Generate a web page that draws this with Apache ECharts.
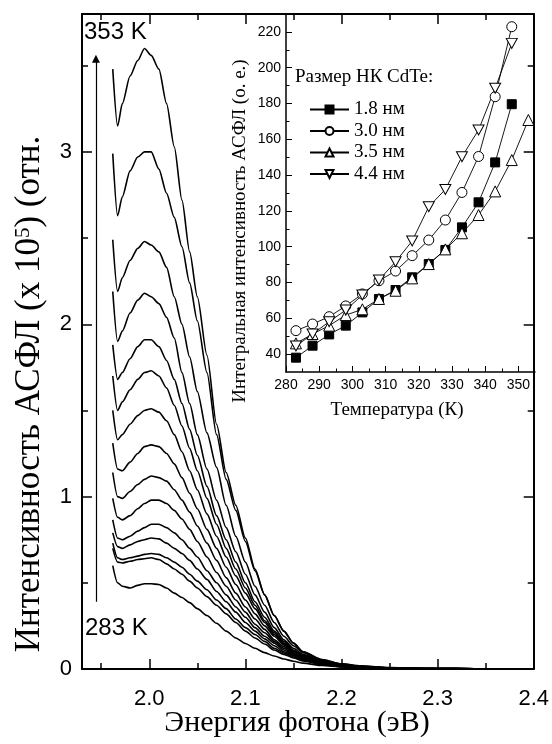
<!DOCTYPE html>
<html><head><meta charset="utf-8">
<script src="https://cdn.jsdelivr.net/npm/echarts@6/dist/echarts.min.js"></script>
<style>html,body{margin:0;padding:0;background:#fff}#c{width:552px;height:744px}</style>
</head><body><div id="c"></div>
<script>
// ---------- main panel data: photon energy (eV) and PL intensity (x 1e5) ----------
const energy = [1.962, 1.967, 1.972, 1.98, 1.988, 1.995, 2.002, 2.01, 2.018, 2.026, 2.034, 2.042, 2.05, 2.06, 2.07, 2.08, 2.09, 2.1, 2.11, 2.12, 2.13, 2.14, 2.15, 2.16, 2.18, 2.2, 2.22, 2.25, 2.28, 2.32, 2.36];
const int353 = [3.48, 3.15, 3.28, 3.44, 3.53, 3.60, 3.56, 3.48, 3.28, 3.03, 2.72, 2.42, 2.16, 1.82, 1.42, 1.14, 0.95, 0.76, 0.58, 0.43, 0.31, 0.22, 0.15, 0.10, 0.055, 0.03, 0.018, 0.008, 0.004, 0.002, 0.001];
const int348 = [2.99, 2.63, 2.74, 2.89, 2.97, 3.00, 3.00, 2.90, 2.76, 2.62, 2.45, 2.24, 2.02, 1.72, 1.36, 1.10, 0.92, 0.74, 0.57, 0.43, 0.31, 0.22, 0.15, 0.10, 0.052, 0.028, 0.016, 0.007, 0.003, 0.002, 0.001];
const int343 = [2.49, 2.19, 2.27, 2.37, 2.44, 2.48, 2.46, 2.42, 2.33, 2.16, 2.00, 1.81, 1.61, 1.37, 1.17, 0.95, 0.77, 0.62, 0.48, 0.37, 0.27, 0.19, 0.135, 0.095, 0.05, 0.027, 0.015, 0.007, 0.003, 0.002, 0.001];
const int338 = [2.19, 1.90, 1.96, 2.065, 2.14, 2.18, 2.16, 2.12, 2.04, 1.92, 1.72, 1.54, 1.36, 1.16, 0.98, 0.82, 0.68, 0.55, 0.43, 0.33, 0.24, 0.17, 0.12, 0.085, 0.045, 0.025, 0.014, 0.006, 0.003, 0.002, 0.001];
const int333 = [1.88, 1.68, 1.72, 1.80, 1.87, 1.91, 1.91, 1.87, 1.79, 1.68, 1.54, 1.39, 1.24, 1.06, 0.89, 0.75, 0.62, 0.50, 0.39, 0.30, 0.22, 0.16, 0.11, 0.078, 0.042, 0.023, 0.013, 0.006, 0.003, 0.002, 0.001];
const int328 = [1.70, 1.50, 1.55, 1.62, 1.68, 1.72, 1.73, 1.70, 1.63, 1.53, 1.41, 1.28, 1.15, 0.99, 0.84, 0.70, 0.58, 0.47, 0.37, 0.28, 0.21, 0.15, 0.105, 0.074, 0.04, 0.022, 0.012, 0.005, 0.003, 0.002, 0.001];
const int323 = [1.50, 1.33, 1.36, 1.42, 1.47, 1.50, 1.51, 1.49, 1.44, 1.36, 1.26, 1.15, 1.04, 0.90, 0.77, 0.65, 0.54, 0.44, 0.35, 0.27, 0.20, 0.145, 0.10, 0.07, 0.038, 0.021, 0.012, 0.005, 0.003, 0.002, 0.001];
const int318 = [1.31, 1.16, 1.15, 1.20, 1.25, 1.29, 1.30, 1.29, 1.25, 1.19, 1.11, 1.02, 0.93, 0.81, 0.70, 0.59, 0.49, 0.40, 0.32, 0.25, 0.19, 0.14, 0.097, 0.068, 0.036, 0.02, 0.011, 0.005, 0.003, 0.002, 0.001];
const int313 = [1.14, 1.00, 0.99, 1.03, 1.07, 1.10, 1.12, 1.11, 1.09, 1.04, 0.98, 0.91, 0.83, 0.73, 0.63, 0.53, 0.44, 0.36, 0.29, 0.23, 0.17, 0.13, 0.09, 0.063, 0.034, 0.019, 0.011, 0.005, 0.002, 0.001, 0.001];
const int308 = [0.99, 0.88, 0.865, 0.89, 0.93, 0.96, 0.98, 0.98, 0.96, 0.92, 0.87, 0.81, 0.74, 0.65, 0.56, 0.48, 0.40, 0.33, 0.26, 0.21, 0.16, 0.12, 0.085, 0.06, 0.032, 0.018, 0.01, 0.005, 0.002, 0.001, 0.001];
const int303 = [0.865, 0.76, 0.75, 0.77, 0.80, 0.82, 0.84, 0.84, 0.82, 0.79, 0.75, 0.70, 0.65, 0.57, 0.50, 0.43, 0.36, 0.30, 0.24, 0.19, 0.15, 0.11, 0.08, 0.056, 0.03, 0.017, 0.01, 0.004, 0.002, 0.001, 0.001];
const int298 = [0.79, 0.71, 0.70, 0.72, 0.74, 0.75, 0.76, 0.755, 0.73, 0.70, 0.67, 0.63, 0.58, 0.52, 0.45, 0.39, 0.33, 0.27, 0.22, 0.175, 0.135, 0.10, 0.075, 0.053, 0.028, 0.016, 0.009, 0.004, 0.002, 0.001, 0.001];
const int293 = [0.73, 0.645, 0.635, 0.645, 0.655, 0.665, 0.67, 0.665, 0.645, 0.62, 0.59, 0.55, 0.51, 0.46, 0.40, 0.35, 0.29, 0.24, 0.20, 0.16, 0.12, 0.093, 0.07, 0.05, 0.027, 0.015, 0.009, 0.004, 0.002, 0.001, 0.001];
const int288 = [0.70, 0.62, 0.615, 0.625, 0.635, 0.64, 0.645, 0.635, 0.61, 0.58, 0.55, 0.51, 0.47, 0.42, 0.37, 0.32, 0.27, 0.22, 0.18, 0.145, 0.11, 0.085, 0.064, 0.047, 0.025, 0.014, 0.008, 0.004, 0.002, 0.001, 0.001];
const int283 = [0.60, 0.50, 0.48, 0.47, 0.485, 0.495, 0.495, 0.49, 0.47, 0.44, 0.415, 0.385, 0.35, 0.31, 0.265, 0.22, 0.18, 0.148, 0.12, 0.095, 0.075, 0.058, 0.045, 0.034, 0.02, 0.012, 0.007, 0.003, 0.002, 0.001, 0.001];
const spectra = [int353, int348, int343, int338, int333, int328, int323, int318, int313, int308, int303, int298, int293, int288, int283];
const spectraTemps = [353, 348, 343, 338, 333, 328, 323, 318, 313, 308, 303, 298, 293, 288, 283];

// temperature arrow (energy, intensity) and its end labels
const arrowEnergy = [1.9445, 1.9445];
const arrowIntensity = [0.39, 3.54];
const arrowLabels = ['353 K', '283 K'];

// main axis ticks
const mainXMajor = [2.0, 2.1, 2.2, 2.3, 2.4];
const mainXMinor = [1.95, 2.05, 2.15, 2.25, 2.35];
const mainYMajor = [0, 1, 2, 3];
const mainYMinor = [0.5, 1.5, 2.5, 3.5];

// ---------- inset data: integrated intensity vs temperature ----------
const sizeNames = ['1.8 нм', '3.0 нм', '3.5 нм', '4.4 нм'];
const tempA = [283, 288, 293, 298, 303, 308, 313, 318, 323, 328, 333, 338, 343, 348];
const tempB = [283, 288, 293, 298, 303, 308, 313, 318, 323, 328, 333, 338, 343, 348, 353];
const integ18 = [38.0, 44.7, 51.0, 55.9, 63.3, 70.8, 75.8, 82.9, 90.3, 98.2, 110.8, 124.8, 147.1, 179.6];
const integ30 = [53.1, 56.8, 60.9, 66.9, 73.6, 81.0, 86.4, 95.0, 103.7, 114.9, 130.3, 150.4, 183.8, 222.9];
const integ35 = [46.0, 51.2, 55.9, 61.8, 65.0, 70.8, 75.4, 82.3, 90.3, 98.5, 107.5, 117.7, 130.9, 148.4, 170.8];
const integ44 = [44.5, 51.2, 58.1, 64.6, 73.0, 81.4, 91.6, 103.2, 122.3, 132.0, 150.3, 165.2, 188.5, 213.6];
const insetXMajor = [280, 290, 300, 310, 320, 330, 340, 350];
const insetXMinor = [285, 295, 305, 315, 325, 335, 345];
const insetYMajor = [40, 60, 80, 100, 120, 140, 160, 180, 200, 220];
const insetYMinor = [50, 70, 90, 110, 130, 150, 170, 190, 210];

// ---------- chart ----------
const chart = echarts.init(document.getElementById('c'), null, {renderer: 'canvas'});
const SANS = 'Liberation Sans, Arial, sans-serif';
const SERIF = 'Liberation Serif, Times New Roman, serif';
const BLACK = '#000';

function axis(o) {
  return {
    type: 'value', gridIndex: o.grid, min: o.min, max: o.max, position: o.position,
    splitLine: {show: false},
    axisLine: {show: !!o.line, onZero: false, lineStyle: {color: BLACK, width: o.lw || 2}},
    axisTick: {show: true, inside: true, length: o.tick, customValues: o.ticks, lineStyle: {color: BLACK, width: o.tw || 1.5}},
    axisLabel: o.labels ? {show: true, customValues: o.ticks, color: BLACK, fontFamily: SANS, fontSize: o.fs, margin: o.margin,
      formatter: o.fmt} : {show: false}
  };
}

const xAxes = [
  axis({grid: 0, min: 1.93, max: 2.4, position: 'bottom', line: true, tick: 10, ticks: mainXMajor, labels: true, fs: 22, margin: 19, fmt: v => Number(v).toFixed(1)}),
  axis({grid: 0, min: 1.93, max: 2.4, position: 'bottom', tick: 6, ticks: mainXMinor}),
  axis({grid: 0, min: 1.93, max: 2.4, position: 'top', line: true, tick: 10, ticks: mainXMajor}),
  axis({grid: 0, min: 1.93, max: 2.4, position: 'top', tick: 6, ticks: mainXMinor}),
  axis({grid: 1, min: 280, max: 355, position: 'bottom', line: true, lw: 1.5, tick: 6, tw: 1, ticks: insetXMajor, labels: true, fs: 14, margin: 6, fmt: v => String(v)}),
  axis({grid: 1, min: 280, max: 355, position: 'bottom', tick: 3.5, tw: 1, ticks: insetXMinor})
];
const yAxes = [
  axis({grid: 0, min: 0, max: 3.8, position: 'left', line: true, tick: 10, ticks: mainYMajor, labels: true, fs: 22, margin: 10, fmt: v => String(v)}),
  axis({grid: 0, min: 0, max: 3.8, position: 'left', tick: 6, ticks: mainYMinor}),
  axis({grid: 0, min: 0, max: 3.8, position: 'right', line: true, tick: 10, ticks: mainYMajor}),
  axis({grid: 0, min: 0, max: 3.8, position: 'right', tick: 6, ticks: mainYMinor}),
  axis({grid: 1, min: 30, max: 230, position: 'left', line: true, lw: 1.5, tick: 6, tw: 1, ticks: insetYMajor, labels: true, fs: 14, margin: 5, fmt: v => String(v)}),
  axis({grid: 1, min: 30, max: 230, position: 'left', tick: 3.5, tw: 1, ticks: insetYMinor})
];

const series = [];
spectra.forEach((arr, k) => {
  series.push({
    name: spectraTemps[k] + ' K', type: 'line', xAxisIndex: 0, yAxisIndex: 0,
    data: energy.map((e, i) => [e, arr[i]]),
    showSymbol: false, symbol: 'none', smooth: 0.25, smoothMonotone: 'x',
    lineStyle: {color: BLACK, width: 1.6}, silent: true, z: 3
  });
});
series.push({
  type: 'lines', coordinateSystem: 'cartesian2d', xAxisIndex: 0, yAxisIndex: 0,
  data: [{coords: [[arrowEnergy[0], arrowIntensity[0]], [arrowEnergy[1], arrowIntensity[1]]]}],
  symbol: ['none', 'triangle'], symbolSize: [0, 8],
  lineStyle: {color: BLACK, width: 1.2, opacity: 1}, silent: true, z: 4
});

const downTri = 'path://M0,0 L10,0 L5,8.66 Z';
const insetDefs = [
  {name: sizeNames[0], x: tempA, y: integ18, symbol: 'rect', size: 9, fill: BLACK},
  {name: sizeNames[1], x: tempA, y: integ30, symbol: 'circle', size: 10, fill: '#fff'},
  {name: sizeNames[2], x: tempB, y: integ35, symbol: 'triangle', size: 11, fill: '#fff'},
  {name: sizeNames[3], x: tempA, y: integ44, symbol: downTri, size: [11, 10], fill: '#fff'}
];
insetDefs.forEach(d => {
  series.push({
    name: d.name, type: 'line', xAxisIndex: 4, yAxisIndex: 4,
    data: d.x.map((t, i) => [t, d.y[i]]),
    symbol: d.symbol, symbolSize: d.size, showSymbol: true,
    itemStyle: {color: d.fill, borderColor: BLACK, borderWidth: 1},
    lineStyle: {color: BLACK, width: 0.9}, silent: true, z: 5
  });
});

chart.setOption({
  animation: false,
  backgroundColor: '#fff',
  grid: [
    {left: 82, top: 14, width: 453, height: 655},
    {left: 286, top: 14, width: 249, height: 358}
  ],
  xAxis: xAxes,
  yAxis: yAxes,
  legend: {
    data: sizeNames, orient: 'vertical', left: 309, top: 99, padding: 0,
    itemWidth: 39, itemHeight: 10, itemGap: 0.5,
    textStyle: {color: BLACK, fontFamily: SERIF, fontSize: 19, lineHeight: 21},
    inactiveColor: BLACK
  },
  graphic: [
    {type: 'text', left: 84, top: 20, style: {text: arrowLabels[0], fill: BLACK, font: '24px ' + SANS}},
    {type: 'text', left: 85, top: 616, style: {text: arrowLabels[1], fill: BLACK, font: '24px ' + SANS}},
    {type: 'text', x: 30, y: 394, rotation: Math.PI / 2,
      style: {text: 'Интенсивность АСФЛ (x 10{sup|5}) (отн.', align: 'center', verticalAlign: 'middle', fill: BLACK, font: '35px ' + SERIF,
        rich: {sup: {fontSize: 21, fontFamily: SERIF, verticalAlign: 'top', fill: BLACK, padding: [0, 0, 14, 0]}}}},
    {type: 'text', x: 297, y: 723, style: {text: 'Энергия фотона (эВ)', align: 'center', verticalAlign: 'middle', fill: BLACK, font: '30px ' + SERIF}},
    {type: 'text', x: 240, y: 231, rotation: Math.PI / 2,
      style: {text: 'Интегральная интенсивность АСФЛ (о. е.)', align: 'center', verticalAlign: 'middle', fill: BLACK, font: '19px ' + SERIF}},
    {type: 'text', x: 397, y: 410, style: {text: 'Температура (К)', align: 'center', verticalAlign: 'middle', fill: BLACK, font: '19px ' + SERIF}},
    {type: 'text', left: 295, top: 68, style: {text: 'Размер НК CdTe:', fill: BLACK, font: '19px ' + SERIF}}
  ],
  series: series
});
</script>
</body></html>
